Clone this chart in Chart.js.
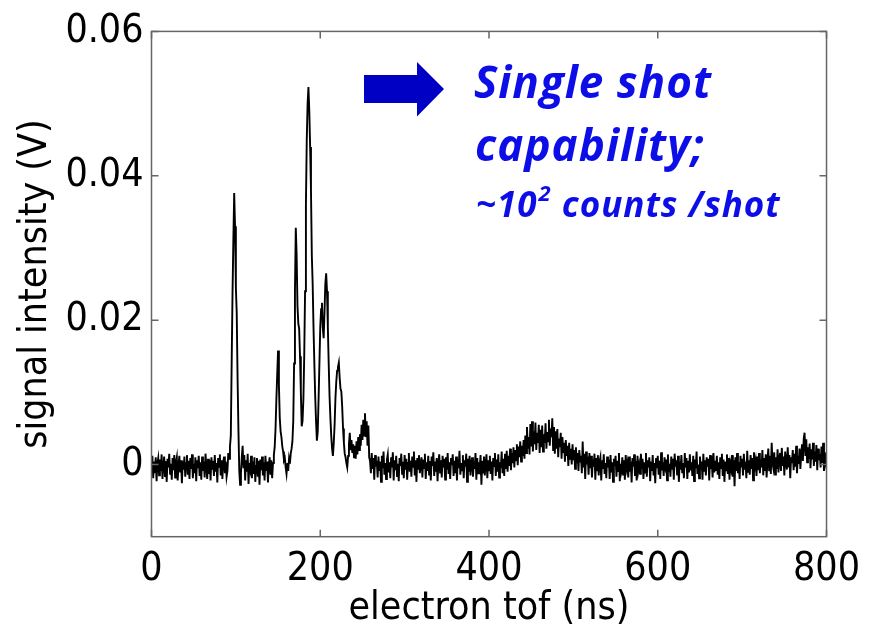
<!DOCTYPE html>
<html>
<head>
<meta charset="utf-8">
<script src="https://cdn.jsdelivr.net/npm/chart.js@4/dist/chart.umd.min.js"></script>
<style>
  body { margin: 0; background: #fff; }
  #wrap { width: 870px; height: 636px; position: relative; }
</style>
</head>
<body>
<div id="wrap"><canvas id="tofChart"></canvas></div>
<script>
// scope trace, one sample per ns from 0 ns, values in mV
const tofStartNs = 0;
const tofStepNs = 1;
const signalMv = [
  -0.6, 1.2, -1.9, 0.4, -1.2, 1.0, -2.3, 0.2, 0.9, -1.5,
  0.7, -0.9, 1.4, -2.0, -0.3, 1.1, -1.6, 0.5, -2.4, 0.8,
  -0.4, 1.5, -1.3, 0.1, -2.1, 0.9, -0.8, 1.3, -1.8, 0.3,
  1.0, -2.2, -0.2, 1.2, -1.1, 0.6, -2.6, 0.4, -0.7, 1.1,
  -1.7, 0.2, 1.3, -1.4, 0.5, -2.0, 0.9, -0.6, 1.4, -1.9,
  0.1, -1.2, 1.0, -2.3, 0.6, -0.5, 1.2, -1.6, 0.3, -2.1,
  1.1, -0.9, 0.4, -1.8, 1.5, -0.2, -2.0, 0.8, -1.3, 0.6,
  -2.2, 1.0, -0.7, 0.5, -1.6, 1.3, -1.0, 0.2, -2.5, 0.9,
  -0.3, 1.4, -1.5, 0.6, -2.0, 0.3, 1.1, -1.2, 0.4, -1.7,
  -0.9, 1.6, 0.8, 2.5, 4.0, 14.0, 23.5, 31.0, 37.6, 33.0,
  24.5, 21.0, 12.0, 5.0, -0.8, -2.8, -1.2, 1.0, 2.6, -0.5,
  1.3, -2.2, 0.6, -1.0, 1.5, -2.7, 0.2, -0.6, 1.2, -1.9,
  0.4, -1.3, 1.0, -2.4, -0.2, 0.9, -1.7, 0.5, -2.8, 0.7,
  -0.8, 1.1, -1.5, 0.3, -2.2, 1.2, -0.9, 0.4, -2.5, -0.1,
  1.0, -1.4, 0.6, -1.9, 0.2, 1.3, 2.4, 5.0, 9.0, 12.5,
  15.8, 11.0, 6.5, 4.6, 3.8, 2.5, 1.8, 0.6, 0.9, -0.4,
  -1.3, 0.2, -0.9, 0.8, 0.1, 1.5, 2.2, 3.2, 6.0, 14.0,
  24.0, 32.8, 29.0, 22.0, 19.5, 18.8, 15.0, 10.0, 5.3, 6.0,
  9.0, 15.0, 24.0, 36.0, 45.0, 50.0, 52.3, 49.0, 44.0, 38.0,
  29.0, 25.0, 19.0, 14.0, 9.5, 6.0, 3.3, 4.5, 9.0, 14.0,
  19.0, 21.5, 22.4, 19.0, 17.5, 21.0, 25.0, 26.5, 24.0, 19.0,
  14.0, 9.5, 6.5, 4.0, 2.2, 1.2, 3.0, 5.5, 9.2, 11.5,
  13.0, 13.5, 14.1, 12.0, 10.5, 10.1, 8.0, 5.0, 3.0, 1.5,
  1.0, 0.2, -0.4, 1.2, 2.8, 4.4, 2.0, 3.4, 1.6, 2.8,
  1.0, 2.6, 0.8, 3.2, 1.4, 3.8, 2.0, 4.2, 2.6, 5.5,
  3.4, 6.2, 4.0, 7.1, 3.8, 6.0, 2.6, 5.4, 1.0, 0.5,
  -1.2, 1.6, -0.6, 0.9, -2.1, 1.3, -0.3, 0.5, -1.8, 1.1,
  -0.9, 0.4, -2.4, 1.2, -0.5, 1.8, -1.4, 0.2, -2.0, 0.7,
  1.4, -1.1, 0.3, -1.9, 1.0, -0.4, 1.7, -2.2, 0.6, -0.8,
  1.2, -1.6, 0.1, -2.3, 0.9, -0.2, 1.5, -1.3, 0.4, -1.9,
  1.3, -0.7, 0.8, -2.1, 0.2, 1.6, -1.0, 0.5, -1.7, 1.1,
  -0.3, 1.8, -1.5, 0.6, -2.4, 0.9, -0.6, 1.3, -1.2, 0.0,
  1.0, -1.8, 0.7, -0.5, 1.5, -2.0, 0.3, -0.9, 1.2, -1.4,
  0.5, -2.2, 1.1, -0.2, 1.7, -1.6, 0.4, -1.0, 0.9, -2.3,
  0.2, 1.4, -1.1, 0.6, -1.8, 1.2, -0.4, 0.8, -2.1, 1.0,
  -0.7, 1.6, -1.3, 0.3, -2.0, 0.9, -0.1, 1.4, -1.6, 0.5,
  -1.2, 1.1, -2.2, 0.7, -0.5, 1.9, -1.4, 0.2, -0.8, 1.3,
  -1.9, 0.6, -0.3, 1.5, -2.4, 0.8, -1.0, 1.2, -1.5, 0.1,
  1.0, -1.7, 0.4, -0.6, 1.6, -2.1, 0.9, -1.2, 0.3, -0.4,
  1.3, -2.8, 0.5, -1.1, 1.1, -1.5, 0.2, 1.4, -1.9, 0.6,
  -0.8, 1.2, -1.3, 0.4, -2.2, 0.9, -0.2, 1.6, -1.6, 0.7,
  -1.0, 1.4, -1.8, 0.3, -0.5, 1.8, -1.2, 0.8, -1.6, 1.5,
  -0.6, 1.9, -1.0, 1.2, -0.2, 2.2, -0.8, 1.6, 0.2, 2.4,
  -0.4, 2.0, 0.6, 2.8, -0.1, 2.5, 1.0, 3.2, 0.4, 2.6,
  1.2, 3.4, 0.8, 4.0, 1.6, 5.2, 2.2, 3.8, 1.4, 5.6,
  2.5, 6.0, 1.8, 4.6, 2.8, 5.8, 2.0, 4.4, 3.0, 5.5,
  1.6, 4.8, 2.4, 5.4, 1.8, 4.2, 3.0, 5.7, 2.2, 4.5,
  3.2, 6.2, 2.6, 5.0, 3.8, 6.4, 2.0, 5.2, 1.5, 4.6,
  2.2, 4.9, 1.0, 3.6, 2.4, 4.4, 0.8, 3.8, 1.6, 3.0,
  0.4, 3.4, 1.2, 2.6, -0.2, 3.0, 0.8, 2.2, 0.0, 2.8,
  0.6, 2.0, -0.6, 2.4, 0.2, 1.6, -0.9, 2.0, 0.4, 1.2,
  -1.2, 3.2, -0.4, 1.5, -2.0, 1.8, 0.0, 1.1, -1.4, 1.6,
  -0.5, 1.2, -1.8, 0.7, -0.3, 1.5, -2.1, 0.9, -0.8, 1.3,
  -1.5, 0.4, 1.0, -2.2, 0.6, -0.6, 1.4, -1.3, 0.2, -1.9,
  1.1, -0.4, 0.7, -2.0, 1.3, -1.1, 0.3, -2.4, 0.8, -0.2,
  1.2, -1.7, 0.5, -0.9, 1.6, -2.3, 0.1, -0.7, 1.0, -1.5,
  0.6, -2.1, 1.3, -0.5, 0.2, -1.8, 1.1, -1.0, 0.4, -2.5,
  0.9, -0.3, 1.4, -1.6, 0.5, -2.2, 1.2, -0.8, 0.0, -1.3,
  1.5, -0.6, 0.8, -2.0, 0.3, -1.1, 1.6, -1.7, 0.6, -0.4,
  1.0, -2.3, 0.4, -0.9, 1.3, -1.5, 0.2, -2.6, 0.9, -0.5,
  1.2, -1.4, 0.5, -2.0, 1.7, -0.8, 0.3, -1.6, 1.0, -0.2,
  0.7, -2.2, 1.4, -1.0, 0.1, -1.7, 1.1, -0.6, 0.8, -2.1,
  1.5, -0.3, 0.6, -1.5, 1.2, -2.4, 0.4, -0.7, 1.3, -1.2,
  0.2, -1.9, 1.6, -0.4, 0.9, -2.0, 0.5, -1.1, 1.4, -0.8,
  0.3, -1.6, 1.2, -2.3, 0.7, -0.5, 1.8, -1.3, 0.0, -1.9,
  1.1, -0.7, 0.4, -2.1, 1.5, -1.0, 0.6, -1.5, 1.0, -0.3,
  0.8, -2.2, 1.3, -0.6, 0.2, -1.8, 1.6, -1.1, 0.5, -0.9,
  1.2, -1.4, 0.3, -2.0, 1.0, -0.5, 1.5, -1.6, 0.7, -2.4,
  0.4, -0.8, 1.4, -1.3, 0.9, -2.1, 0.1, -0.6, 1.3, -1.7,
  0.6, -3.0, 1.0, -0.9, 1.6, -1.2, 0.3, -2.0, 1.2, -0.4,
  0.8, -1.5, 1.5, -0.7, 0.4, -1.9, 1.9, -1.0, 0.6, -1.4,
  1.3, -0.6, 0.9, -2.2, 1.7, -0.3, 0.5, -1.6, 1.1, -0.8,
  1.6, -1.2, 0.7, -0.4, 2.0, -1.5, 0.9, -0.9, 1.4, -1.8,
  0.6, 2.2, -0.8, 1.2, -1.3, 3.0, 0.2, -0.5, 1.7, -1.4,
  1.0, -0.6, 2.1, -1.1, 0.8, 1.6, -0.9, 2.3, -0.2, 1.1,
  -1.5, 1.8, 0.3, -0.7, 2.4, -0.4, 1.3, -1.9, 1.0, 0.2,
  2.0, -0.8, 1.5, -0.3, 2.6, -1.2, 1.2, 0.1, 2.2, -0.6,
  1.4, 2.8, 0.5, 3.6, 4.4, 1.2, 3.5, 0.3, 2.4, 0.8,
  2.9, -0.5, 2.1, 0.7, 3.0, -0.2, 1.8, 0.4, 2.7, -0.8,
  2.2, 0.6, 1.5, -0.4, 2.5, 0.2, 3.0, -0.9, 1.7, 0.5,
  1.6
];

const xTicks = [0, 200, 400, 600, 800];
const yTicks = [0, 0.02, 0.04, 0.06];

const points = signalMv.map((mv, i) => ({ x: tofStartNs + i * tofStepNs, y: mv / 1000 }));

const labelFont = { family: 'DejaVu Sans Condensed', size: 39 };
const frameColor = '#666';

// box + inward ticks on all four sides, like the matlab style
const framePlugin = {
  id: 'frame',
  afterDatasetsDraw(chart) {
    const { ctx, chartArea: a, scales } = chart;
    ctx.save();
    ctx.strokeStyle = frameColor;
    ctx.lineWidth = 1.5;
    ctx.strokeRect(a.left, a.top, a.right - a.left, a.bottom - a.top);
    ctx.beginPath();
    xTicks.forEach(v => {
      const px = scales.x.getPixelForValue(v);
      ctx.moveTo(px, a.bottom); ctx.lineTo(px, a.bottom - 7);
      ctx.moveTo(px, a.top); ctx.lineTo(px, a.top + 7);
    });
    yTicks.forEach(v => {
      const py = scales.y.getPixelForValue(v);
      ctx.moveTo(a.left, py); ctx.lineTo(a.left + 7, py);
      ctx.moveTo(a.right, py); ctx.lineTo(a.right - 7, py);
    });
    ctx.stroke();
    ctx.restore();
  }
};

const notePlugin = {
  id: 'note',
  afterDraw(chart) {
    const ctx = chart.ctx;
    ctx.save();
    // arrow
    ctx.fillStyle = '#0000c4';
    ctx.beginPath();
    ctx.moveTo(364, 75);
    ctx.lineTo(417, 75);
    ctx.lineTo(417, 62);
    ctx.lineTo(444, 89);
    ctx.lineTo(417, 116.5);
    ctx.lineTo(417, 103);
    ctx.lineTo(364, 103);
    ctx.closePath();
    ctx.fill();

    ctx.fillStyle = '#0d0de8';
    ctx.textBaseline = 'alphabetic';
    ctx.textAlign = 'left';
    ctx.letterSpacing = '1px';
    ctx.font = 'italic bold 44px "Open Sans"';
    ctx.fillText('Single shot', 474, 98);
    ctx.fillText('capability;', 475, 161);

    ctx.font = 'italic bold 35px "Open Sans"';
    let x = 476;
    ctx.fillText('~10', x, 217);
    x += ctx.measureText('~10').width;
    ctx.font = 'italic bold 22px "Open Sans"';
    ctx.fillText('2', x + 1, 201);
    x += ctx.measureText('2').width + 1;
    ctx.font = 'italic bold 35px "Open Sans"';
    ctx.fillText(' counts /shot', x, 217);
    ctx.restore();
  }
};

new Chart(document.getElementById('tofChart'), {
  type: 'line',
  data: {
    datasets: [{
      data: points,
      borderColor: '#000',
      borderWidth: 1.9,
      pointRadius: 0,
      tension: 0,
      fill: false
    }]
  },
  options: {
    responsive: true,
    maintainAspectRatio: false,
    animation: false,
    layout: { padding: { top: 25.7, right: 37.5, left: 0, bottom: 0 } },
    plugins: { legend: { display: false }, tooltip: { enabled: false } },
    scales: {
      x: {
        type: 'linear',
        min: 0,
        max: 800,
        afterFit: s => { s.height = 99.3; },
        afterBuildTicks: s => { s.ticks = xTicks.map(v => ({ value: v })); },
        grid: { display: false, drawTicks: false },
        border: { display: false },
        ticks: { color: '#000', font: labelFont, padding: 10, maxRotation: 0 },
        title: {
          display: true,
          text: 'electron tof (ns)',
          color: '#000',
          font: labelFont,
          padding: { top: 0, bottom: 4 }
        }
      },
      y: {
        min: -0.01,
        max: 0.06,
        afterFit: s => { s.width = 151.5; },
        afterBuildTicks: s => { s.ticks = yTicks.map(v => ({ value: v })); },
        grid: { display: false, drawTicks: false },
        border: { display: false },
        ticks: {
          color: '#000',
          font: labelFont,
          padding: 8,
          callback: v => (v === 0 ? '0' : v.toFixed(2))
        },
        title: {
          display: true,
          text: 'signal intensity (V)',
          color: '#000',
          font: labelFont,
          padding: { top: 12, bottom: 0 }
        }
      }
    }
  },
  plugins: [framePlugin, notePlugin]
});
</script>
</body>
</html>
